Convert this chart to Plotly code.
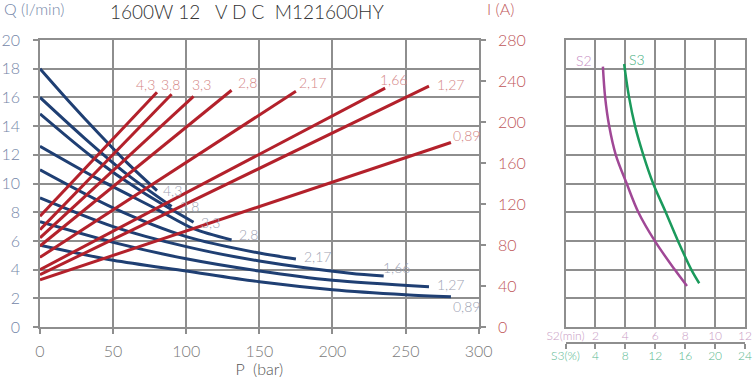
import plotly.graph_objects as go

# ---------------- data ----------------
curve_labels = ['4,3', '3,8', '3,3', '2,8', '2,17', '1,66', '1,27', '0,89']

# Flow Q (l/min) vs pressure P (bar) – blue curves
blue_P = [
    [0, 20, 40, 60, 80],
    [0, 30, 60, 90],
    [0, 35, 70, 105],
    [0, 40, 80, 105, 131],
    [0, 50, 100, 150, 175],
    [0, 50, 100, 150, 212, 235],
    [0, 50, 100, 150, 200, 266],
    [0, 50, 100, 150, 200, 250, 281],
]
blue_Q = [
    [18.0, 15.7, 13.5, 11.4, 9.5],
    [16.0, 13.2, 10.6, 8.4],
    [14.85, 11.9, 9.4, 7.3],
    [12.6, 10.3, 8.2, 6.85, 6.06],
    [10.95, 8.3, 6.3, 5.15, 4.74],
    [9.0, 7.0, 5.6, 4.6, 3.75, 3.55],
    [7.33, 5.9, 4.75, 3.9, 3.25, 2.8],
    [5.7, 4.65, 3.9, 3.15, 2.6, 2.25, 2.1],
]

# Current I (A) vs pressure P (bar) – red lines
red_P = [[0, 80], [0, 90], [0, 105], [0, 131], [0, 175], [0, 236], [0, 266], [0, 281]]
red_I = [[108, 229], [95, 227], [87, 225], [79, 231], [68, 230], [56, 233], [51, 235], [46, 180]]

# Duty curves (right panel)
s2_min = [2.5, 2.65, 2.92, 3.36, 4.09, 4.87, 5.97, 7.3, 8.12]
s2_y = [18.14, 16, 14, 12, 10, 8, 6, 4, 2.86]
s3_pct = [7.84, 8.5, 9.3, 10.4, 11.72, 13.4, 15.04, 16.82, 17.88]
s3_y = [18.33, 16, 14, 12, 10, 8, 6, 4, 3.05]

p_ticks = [0, 50, 100, 150, 200, 250, 300]
q_ticks = [0, 2, 4, 6, 8, 10, 12, 14, 16, 18, 20]
i_ticks = [0, 40, 80, 120, 160, 200, 240, 280]
s2_ticks = [0, 2, 4, 6, 8, 10, 12]
s2_text = ['S2(min)', '2', '4', '6', '8', '10', '12']
s3_ticks = [0, 4, 8, 12, 16, 20, 24]
s3_text = ['S3(%)', '4', '8', '12', '16', '20', '24']

# ---------------- style ----------------
FONT = 'Lato'
BLUE = '#1f3f73'
RED = '#b3212b'
GRID = '#8e8e8e'
BLUE_TXT = '#7486a8'
RED_TXT = '#c0575a'
BLUE_LBL = '#9ea3b3'
RED_LBL = '#d48585'
PURPLE = '#a04896'
GREEN = '#1b9a5c'

fig = go.Figure()

for P, Q in zip(blue_P, blue_Q):
    fig.add_trace(go.Scatter(x=P, y=Q, mode='lines', line=dict(color=BLUE, width=3, shape='spline', smoothing=0.8),
                             xaxis='x', yaxis='y', hoverinfo='skip', showlegend=False))
for P, I in zip(red_P, red_I):
    fig.add_trace(go.Scatter(x=P, y=I, mode='lines', line=dict(color=RED, width=3),
                             xaxis='x', yaxis='y2', hoverinfo='skip', showlegend=False))

fig.add_trace(go.Scatter(x=s2_min, y=s2_y, mode='lines', line=dict(color=PURPLE, width=2.5, shape='spline'),
                         xaxis='x3', yaxis='y3', hoverinfo='skip', showlegend=False))
fig.add_trace(go.Scatter(x=s3_pct, y=s3_y, mode='lines', line=dict(color=GREEN, width=2.5, shape='spline'),
                         xaxis='x4', yaxis='y3', hoverinfo='skip', showlegend=False))

annotations = []
# blue curve labels (offsets in px from the curve end)
blue_off = [(4, 0, 'left'), (6, 0, 'left'), (5, 0, 'left'), (5, 6, 'left'),
            (6, 2, 'left'), (-3, 9, 'left'), (6, 2, 'left'), (0, -10, 'left')]
for lbl, P, Q, (dx, dy, xa) in zip(curve_labels, blue_P, blue_Q, blue_off):
    annotations.append(dict(x=P[-1], y=Q[-1], xref='x', yref='y', text=lbl, showarrow=False,
                            xanchor=xa, yanchor='middle', xshift=dx, yshift=dy,
                            font=dict(family=FONT, size=14, color=BLUE_LBL, weight=300)))
red_off = [(0, 8, 'right'), (10, 10, 'right'), (19, 12, 'right'), (4, 8, 'left'),
           (1, 9, 'left'), (-7, 9, 'left'), (6, 2, 'left'), (0, 7, 'left')]
for lbl, P, I, (dx, dy, xa) in zip(curve_labels, red_P, red_I, red_off):
    annotations.append(dict(x=P[-1], y=I[-1], xref='x', yref='y2', text=lbl, showarrow=False,
                            xanchor=xa, yanchor='middle', xshift=dx, yshift=dy,
                            font=dict(family=FONT, size=14, color=RED_LBL, weight=300)))

annotations.append(dict(x=s2_min[0], y=s2_y[0], xref='x3', yref='y3', text='S2', showarrow=False,
                        xanchor='right', yanchor='bottom', xshift=-9, yshift=-4,
                        font=dict(family=FONT, size=14, color='#c48cbf', weight=300)))
annotations.append(dict(x=s3_pct[0], y=s3_y[0], xref='x4', yref='y3', text='S3', showarrow=False,
                        xanchor='left', yanchor='bottom', xshift=3, yshift=-6,
                        font=dict(family=FONT, size=14, color='#3fae7e', weight=300)))

annotations.append(dict(x=0, y=1, xref='paper', yref='paper', text='Q (l/min)', showarrow=False,
                        xanchor='left', yanchor='bottom', xshift=-38, yshift=20,
                        font=dict(family=FONT, size=16, color=BLUE_TXT, weight=300)))
annotations.append(dict(x=300, y=1, xref='x', yref='paper', text='I (A)', showarrow=False,
                        xanchor='left', yanchor='bottom', xshift=6, yshift=20,
                        font=dict(family=FONT, size=16, color=RED_TXT, weight=300)))

tickfont = dict(family=FONT, size=16, weight=300)

fig.update_layout(
    width=755, height=378,
    margin=dict(l=40, r=8, t=40, b=30),
    paper_bgcolor='white', plot_bgcolor='white',
    title=dict(text='1600W 12\u00a0\u00a0\u00a0V\u00a0D\u00a0C\u00a0\u00a0M121600HY', x=110 / 755, xanchor='left',
               y=1 - 12 / 378, yanchor='middle', xref='container', yref='container',
               font=dict(family=FONT, size=19, color='#333333', weight=300)),
    annotations=annotations,
    xaxis=dict(domain=[0, 0.6223], range=[0, 300], tickvals=p_ticks, showgrid=True, gridcolor=GRID, gridwidth=1.5,
               showline=True, linecolor=GRID, linewidth=1.5, mirror=True, zeroline=False,
               ticks='outside', ticklen=5, tickcolor=GRID, tickwidth=1.5,
               tickfont=dict(tickfont, color='#7a7a7a'), ticklabelstandoff=4,
               title=dict(text='P\u00a0\u00a0(bar)\u00a0\u00a0', font=dict(family=FONT, size=16, color='#555555', weight=300), standoff=2),
               automargin=False, anchor='y'),
    yaxis=dict(domain=[0.0682, 1], range=[0, 20], tickvals=q_ticks, showgrid=True, gridcolor=GRID, gridwidth=1.5,
               showline=True, linecolor=GRID, linewidth=1.5, mirror=True, zeroline=False,
               ticks='outside', ticklen=5, tickcolor=GRID, tickwidth=1.5,
               tickfont=dict(tickfont, color=BLUE_TXT), ticklabelstandoff=10, automargin=False, anchor='x'),
    yaxis2=dict(overlaying='y', side='right', anchor='x', range=[0, 280], tickvals=i_ticks, showgrid=False,
                zeroline=False, showline=False, ticks='outside', ticklen=6, tickcolor=GRID, tickwidth=1.5,
                tickfont=dict(tickfont, color=RED_TXT), ticklabelstandoff=9, automargin=False),
    xaxis3=dict(domain=[0.7454, 1], range=[0, 12], tickvals=s2_ticks, ticktext=s2_text, showgrid=True,
                gridcolor=GRID, gridwidth=1.5, showline=True, linecolor=GRID, linewidth=1.5, mirror=True,
                zeroline=False, ticks='', tickfont=dict(family=FONT, size=12, color='#c89ac3', weight=300),
                ticklabelstandoff=-3, anchor='y3', automargin=False),
    yaxis3=dict(domain=[0.0682, 1], range=[0, 20], tickvals=q_ticks, showticklabels=False, showgrid=True,
                gridcolor=GRID, gridwidth=1.5, showline=True, linecolor=GRID, linewidth=1.5, mirror=True,
                zeroline=False, ticks='', anchor='x3'),
    xaxis4=dict(overlaying='x3', anchor='free', position=0.0162, range=[0, 24], tickvals=s3_ticks,
                ticktext=s3_text, showgrid=False, zeroline=False, showline=True, linecolor=GRID, linewidth=1.5,
                ticks='outside', ticklen=5, tickcolor=GRID, tickwidth=1.5,
                tickfont=dict(family=FONT, size=12, color='#58b88f', weight=300), ticklabelstandoff=-3,
                automargin=False),
)

fig.write_html('out.html', config={'displayModeBar': False},
               post_script="document.body.style.margin='0';document.body.style.overflow='hidden';")
